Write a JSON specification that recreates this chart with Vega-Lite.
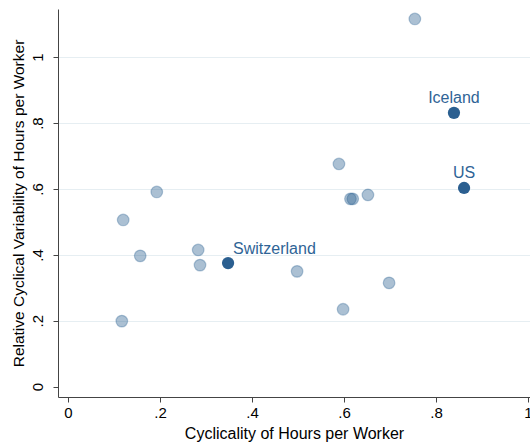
{
  "$schema": "https://vega.github.io/schema/vega-lite/v6.json",
  "width": 472,
  "height": 388,
  "autosize": "none",
  "padding": {"left": 58, "top": 9, "right": 0, "bottom": 46},
  "background": "white",
  "config": {
    "view": {"stroke": null},
    "font": "Liberation Sans",
    "axis": {
      "domainColor": "#444444",
      "tickColor": "#444444",
      "tickSize": 5,
      "labelColor": "#000000",
      "titleColor": "#000000",
      "labelFont": "Liberation Sans",
      "titleFont": "Liberation Sans",
      "labelFontSize": 15,
      "titleFontSize": 16,
      "titleFontWeight": "normal"
    }
  },
  "data": {
    "values": [
      {"x": 0.754, "y": 1.116, "label": "", "highlight": false},
      {"x": 0.839, "y": 0.831, "label": "Iceland", "highlight": true},
      {"x": 0.861, "y": 0.603, "label": "US", "highlight": true},
      {"x": 0.589, "y": 0.676, "label": "", "highlight": false},
      {"x": 0.614, "y": 0.570, "label": "", "highlight": false},
      {"x": 0.619, "y": 0.570, "label": "", "highlight": false},
      {"x": 0.652, "y": 0.582, "label": "", "highlight": false},
      {"x": 0.193, "y": 0.591, "label": "", "highlight": false},
      {"x": 0.120, "y": 0.506, "label": "", "highlight": false},
      {"x": 0.157, "y": 0.397, "label": "", "highlight": false},
      {"x": 0.283, "y": 0.415, "label": "", "highlight": false},
      {"x": 0.287, "y": 0.369, "label": "", "highlight": false},
      {"x": 0.348, "y": 0.375, "label": "Switzerland", "highlight": true},
      {"x": 0.498, "y": 0.350, "label": "", "highlight": false},
      {"x": 0.698, "y": 0.315, "label": "", "highlight": false},
      {"x": 0.598, "y": 0.235, "label": "", "highlight": false},
      {"x": 0.117, "y": 0.199, "label": "", "highlight": false}
    ]
  },
  "encoding": {
    "x": {
      "field": "x",
      "type": "quantitative",
      "scale": {"domain": [-0.0217, 1.0043], "nice": false, "zero": false},
      "axis": {
        "values": [0, 0.2, 0.4, 0.6, 0.8, 1],
        "labelExpr": "datum.value == 0 ? '0' : replace(format(datum.value, '.1~f'), '0.', '.')",
        "grid": false,
        "title": "Cyclicality of Hours per Worker",
        "labelPadding": 3,
        "titlePadding": 5
      }
    },
    "y": {
      "field": "y",
      "type": "quantitative",
      "scale": {"domain": [-0.0313, 1.1462], "nice": false, "zero": false},
      "axis": {
        "values": [0, 0.2, 0.4, 0.6, 0.8, 1],
        "labelExpr": "datum.value == 0 ? '0' : replace(format(datum.value, '.1~f'), '0.', '.')",
        "labelAngle": -90,
        "labelAlign": "center",
        "labelBaseline": "bottom",
        "labelPadding": 8,
        "grid": true,
        "gridColor": "#e6eef2",
        "gridWidth": 1.2,
        "gridOpacity": {"condition": {"test": "datum.value == 0", "value": 0}, "value": 1},
        "title": "Relative Cyclical Variability of Hours per Worker",
        "titleFontSize": 15.5,
        "titlePadding": 4
      }
    }
  },
  "layer": [
    {
      "transform": [{"filter": "!datum.highlight"}],
      "mark": {
        "type": "point",
        "shape": "circle",
        "filled": true,
        "size": 135,
        "color": "#2c6191",
        "fillOpacity": 0.4,
        "stroke": "#2c6191",
        "strokeOpacity": 0.35,
        "strokeWidth": 1.2
      }
    },
    {
      "transform": [{"filter": "datum.highlight"}],
      "mark": {
        "type": "point",
        "shape": "circle",
        "filled": true,
        "size": 150,
        "color": "#2b5f90",
        "opacity": 1
      }
    },
    {
      "transform": [{"filter": "datum.label == 'Iceland' || datum.label == 'US'"}],
      "mark": {
        "type": "text",
        "fontSize": 16,
        "color": "#2f6496",
        "align": "center",
        "baseline": "middle",
        "dy": -15
      },
      "encoding": {"text": {"field": "label"}}
    },
    {
      "transform": [{"filter": "datum.label == 'Switzerland'"}],
      "mark": {
        "type": "text",
        "fontSize": 16,
        "color": "#2f6496",
        "align": "left",
        "baseline": "middle",
        "dx": 5,
        "dy": -14
      },
      "encoding": {"text": {"field": "label"}}
    }
  ]
}
